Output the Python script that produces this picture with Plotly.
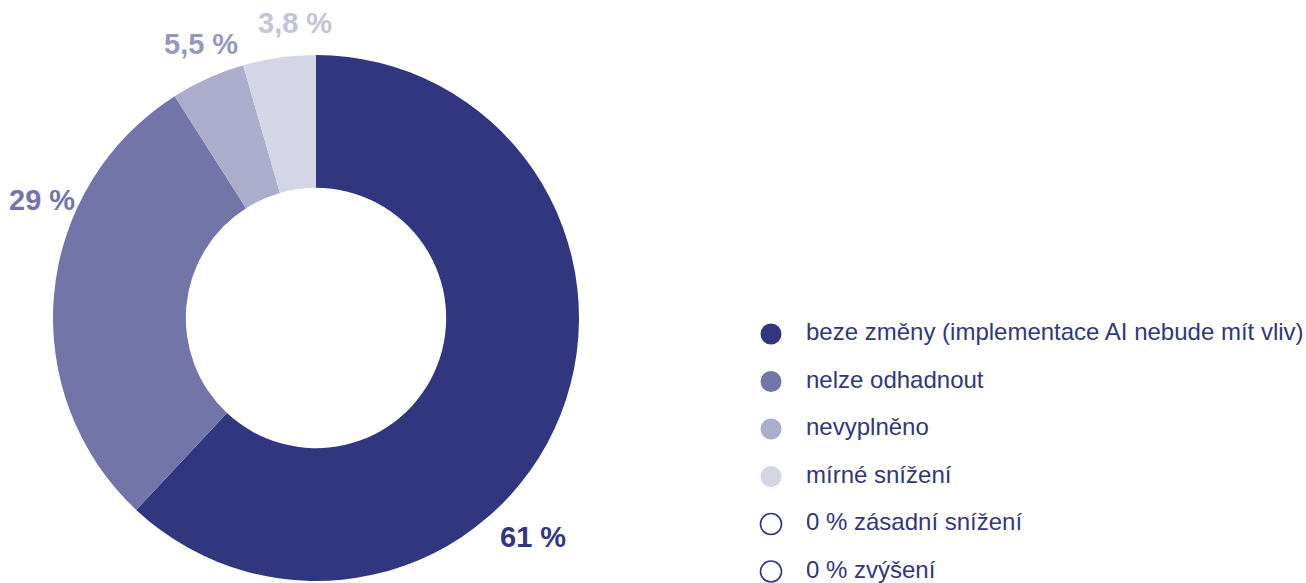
import plotly.graph_objects as go

# Data
categories = ["beze změny (implementace AI nebude mít vliv)", "nelze odhadnout",
              "nevyplněno", "mírné snížení", "zásadní snížení", "zvýšení"]
values = [62.0, 29.0, 4.56, 4.47, 0, 0]
# percent labels as printed on the chart
label_texts = ["61 %", "29 %", "5,5 %", "3,8 %"]
colors = ["#32367F", "#7375A8", "#ABADCB", "#D5D6E5", "#FFFFFF", "#FFFFFF"]
label_colors = ["#32367F", "#7375A8", "#9597C0", "#C3C4DA"]

W, H = 1306, 583
FONT = "Liberation Sans, Arial, Helvetica, sans-serif"
NAVY = "#32367F"

fig = go.Figure()

# Donut
cx, cy, R = 316, 318, 263
pie_vals = [v for v in values if v > 0]
fig.add_trace(go.Pie(
    values=pie_vals,
    labels=categories[:len(pie_vals)],
    hole=0.495,
    sort=False,
    direction="clockwise",
    rotation=0,
    marker=dict(colors=colors[:len(pie_vals)], line=dict(width=0)),
    textinfo="none",
    hoverinfo="label",
    showlegend=False,
    domain=dict(x=[(cx - R) / W, (cx + R) / W],
                y=[(H - cy - R) / H, (H - cy + R) / H]),
))

# Percent labels (annotations)
label_pos = [(533, 537), (42, 200), (201, 44), (295, 23)]
for txt, c, (px, py) in zip(label_texts, label_colors, label_pos):
    fig.add_annotation(x=px / W, y=1 - py / H, xref="paper", yref="paper",
                       text=f"<b>{txt}</b>", showarrow=False,
                       font=dict(family=FONT, size=29, color=c),
                       xanchor="center", yanchor="middle")

# Custom legend as scatter on hidden axes
legend_text = []
for cat, v in zip(categories, values):
    legend_text.append(cat if v > 0 else f"0 % {cat}")
idx = list(range(len(categories)))
fig.add_trace(go.Scatter(
    x=[0] * len(idx), y=idx, mode="markers",
    marker=dict(size=21, color=colors,
                line=dict(color=[NAVY if v == 0 else c for v, c in zip(values, colors)],
                          width=[1.6 if v == 0 else 0 for v in values])),
    hoverinfo="skip", showlegend=False, cliponaxis=False,
))
fig.add_trace(go.Scatter(
    x=[1] * len(idx), y=idx, mode="text", text=legend_text,
    textposition="middle right",
    textfont=dict(family=FONT, size=24, color=NAVY),
    hoverinfo="skip", showlegend=False,
))

x0, dx = 771, 35
y0, dy = 334, 47.5
fig.update_layout(
    width=W, height=H,
    margin=dict(l=0, r=0, t=0, b=0),
    paper_bgcolor="white", plot_bgcolor="rgba(0,0,0,0)",
    xaxis=dict(domain=[0, 1], range=[-x0 / dx, (W - x0) / dx], visible=False, fixedrange=True),
    yaxis=dict(domain=[0, 1], range=[(H - y0) / dy, -y0 / dy], visible=False, fixedrange=True),
    showlegend=False,
)

fig.write_html("out.html", config={"displayModeBar": False},
               post_script="document.body.style.margin='0';document.body.style.padding='0';"
                           "document.body.style.overflow='hidden';")
